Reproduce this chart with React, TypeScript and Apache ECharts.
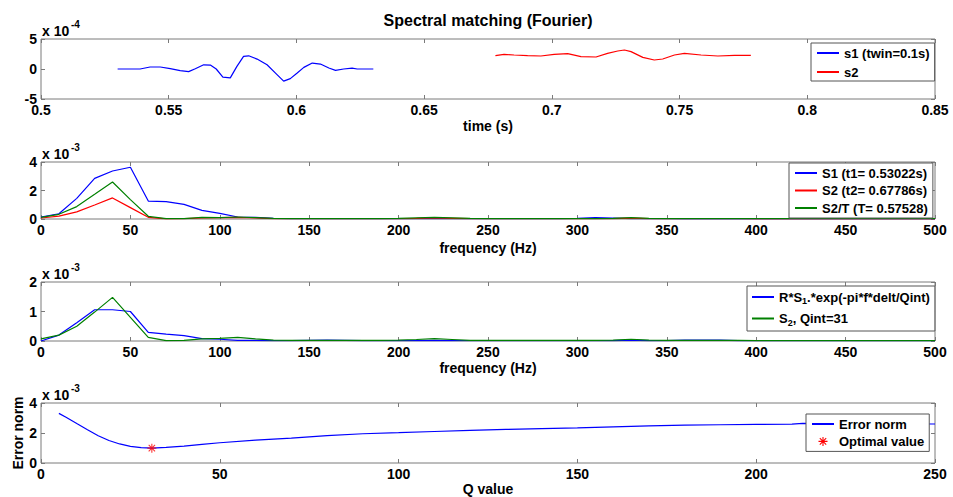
import React, { useEffect, useRef } from "react";
import * as echarts from "echarts";

// ---- data (y values in units of the axis multipliers) ----
const s1Time = [0.530, 0.5388, 0.5427, 0.5467, 0.5506, 0.5545, 0.5578, 0.5604, 0.5637, 0.5663, 0.5686, 0.5712, 0.5741, 0.5767, 0.5793, 0.5813, 0.5846, 0.5885, 0.5924, 0.5950, 0.5976, 0.6003, 0.6029, 0.6062, 0.6094, 0.6127, 0.6153, 0.6185, 0.6218, 0.6238, 0.6301];
const s1Val = [0, 0, 0.33, 0.33, 0.05, -0.27, -0.44, 0.05, 0.7, 0.66, 0, -1.37, -1.48, 0.44, 2.1, 2.2, 1.65, 0.7, -0.93, -2.03, -1.6, -0.66, 0.27, 0.99, 0.82, 0.16, -0.22, 0, 0.16, 0, 0]; // x 1e-4
const s2Time = [0.6779, 0.6813, 0.6852, 0.6905, 0.6957, 0.7009, 0.7062, 0.7114, 0.7173, 0.7218, 0.7258, 0.7284, 0.7310, 0.7356, 0.7401, 0.7434, 0.7480, 0.7519, 0.7584, 0.7650, 0.7715, 0.7779];
const s2Val = [2.22, 2.44, 2.33, 2.22, 2.17, 2.44, 2.55, 2.06, 2.0, 2.61, 3.0, 3.17, 2.89, 1.94, 1.5, 1.67, 2.33, 2.61, 2.33, 2.17, 2.28, 2.28]; // x 1e-4

const freq = [0, 10, 20, 30, 40, 50, 60, 70, 80, 90, 100, 110, 120, 130, 140, 150, 160, 170, 180, 190, 200, 210, 220, 230, 240, 250, 260, 270, 280, 290, 300, 310, 320, 330, 340, 350, 360, 370, 380, 390, 400, 410, 420, 430, 440, 450, 460, 470, 480, 490, 500];
const specS1 = [0.14, 0.37, 1.45, 2.85, 3.37, 3.63, 1.26, 1.22, 1.03, 0.61, 0.40, 0.14, 0.12, 0.05, 0.03, 0.02, 0.03, 0.02, 0.02, 0.03, 0.02, 0.03, 0.04, 0.02, 0.02, 0.02, 0.02, 0.02, 0.02, 0.03, 0.05, 0.1, 0.07, 0.02, 0.02, 0.02, 0.01, 0.01, 0.02, 0.01, 0.01, 0.01, 0.01, 0.01, 0.01, 0.01, 0.01, 0.01, 0.01, 0.01, 0.01]; // x 1e-3
const specS2 = [0.07, 0.2, 0.5, 0.98, 1.48, 0.8, 0.12, 0.01, 0.02, 0.07, 0.09, 0.12, 0.07, 0.03, 0.02, 0.02, 0.02, 0.02, 0.02, 0.02, 0.03, 0.05, 0.08, 0.05, 0.02, 0.02, 0.02, 0.02, 0.02, 0.02, 0.02, 0.02, 0.03, 0.06, 0.03, 0.02, 0.02, 0.02, 0.02, 0.02, 0.01, 0.01, 0.01, 0.01, 0.01, 0.01, 0.01, 0.01, 0.01, 0.01, 0.01]; // x 1e-3
const specS2T = [0.12, 0.33, 0.87, 1.73, 2.6, 1.36, 0.19, 0.02, 0.02, 0.12, 0.1, 0.14, 0.1, 0.05, 0.03, 0.03, 0.03, 0.03, 0.03, 0.03, 0.04, 0.08, 0.12, 0.08, 0.04, 0.03, 0.03, 0.03, 0.03, 0.03, 0.03, 0.03, 0.05, 0.1, 0.05, 0.03, 0.03, 0.03, 0.03, 0.03, 0.02, 0.02, 0.02, 0.02, 0.02, 0.02, 0.02, 0.02, 0.02, 0.02, 0.02]; // x 1e-3
const specRS1 = [0, 0.2, 0.62, 1.06, 1.06, 1.0, 0.29, 0.23, 0.18, 0.08, 0.06, 0.02, 0.02, 0.01, 0.01, 0.02, 0.03, 0.02, 0.01, 0.01, 0.01, 0.01, 0.02, 0.01, 0.01, 0.01, 0.01, 0.01, 0.01, 0.01, 0.01, 0.01, 0.01, 0.03, 0.01, 0.01, 0.03, 0.03, 0.03, 0.01, 0.01, 0.01, 0.01, 0.01, 0.01, 0.01, 0.01, 0.01, 0.01, 0.01, 0.01]; // x 1e-3

const qValues = [5, 7, 10, 13, 16, 19, 22, 25, 28, 31, 35, 40, 45, 50, 60, 70, 80, 90, 100, 110, 120, 130, 140, 150, 160, 170, 180, 190, 200, 210, 213, 220, 230, 240, 250];
const errNorm = [3.31, 3.05, 2.63, 2.22, 1.82, 1.5, 1.27, 1.11, 1.02, 0.99, 1.04, 1.13, 1.24, 1.35, 1.52, 1.66, 1.82, 1.95, 2.02, 2.1, 2.18, 2.24, 2.29, 2.34, 2.41, 2.48, 2.52, 2.55, 2.57, 2.59, 2.64, 2.63, 2.62, 2.61, 2.6]; // x 1e-3
const optimalQ = [31];
const optimalErr = [0.99];

const FONT = "'Liberation Sans', Arial, sans-serif";
const FRAME = "#7a7a7a";
const BLUE = "#0000ff";
const RED = "#ff0000";
const GREEN = "#008000";

const zip = (xs: number[], ys: number[]) => xs.map((x, i) => [x, ys[i]]);

const ASTERISK =
  "path://M-0.6,-5L0.6,-5L0.6,5L-0.6,5Z M-5,-0.6L5,-0.6L5,0.6L-5,0.6Z M3.111,-3.960L3.960,-3.111L-3.111,3.960L-3.960,3.111Z M-3.960,-3.111L-3.111,-3.960L3.960,3.111L3.111,3.960Z";

const grids = [
  { left: 41, top: 39, width: 894, height: 60 },
  { left: 41, top: 162, width: 894, height: 57 },
  { left: 41, top: 282, width: 894, height: 59 },
  { left: 41, top: 403, width: 894, height: 60 },
];

const tickStyle = { inside: true, length: 4, lineStyle: { color: FRAME, width: 1 } };
const labelStyle = { color: "#000", fontWeight: "bold" as const, fontSize: 14, fontFamily: FONT };
const hiddenLine = { show: false, onZero: false };

function xAxes(g: number, min: number, max: number, interval: number, name: string, gap: number, fmt?: (v: number) => string) {
  return [
    {
      gridIndex: g, type: "value", position: "bottom", min, max, interval,
      axisLine: hiddenLine, axisTick: tickStyle, splitLine: { show: false },
      axisLabel: { ...labelStyle, margin: 4, formatter: fmt },
      name, nameLocation: "middle", nameGap: gap, nameMoveOverlap: false,
      nameTextStyle: { ...labelStyle },
    },
    {
      gridIndex: g, type: "value", position: "top", min, max, interval,
      axisLine: hiddenLine, axisTick: tickStyle, splitLine: { show: false },
      axisLabel: { show: false },
    },
  ];
}

function yAxes(g: number, min: number, max: number, interval: number, name?: string) {
  return [
    {
      gridIndex: g, type: "value", position: "left", min, max, interval,
      axisLine: hiddenLine, axisTick: tickStyle, splitLine: { show: false },
      axisLabel: { ...labelStyle, margin: 4 },
      name: name || "", nameLocation: "middle", nameGap: 16, nameMoveOverlap: false,
      nameTextStyle: { ...labelStyle },
    },
    {
      gridIndex: g, type: "value", position: "right", min, max, interval,
      axisLine: hiddenLine, axisTick: tickStyle, splitLine: { show: false },
      axisLabel: { show: false },
    },
  ];
}

const line = (name: string, xi: number, yi: number, data: number[][], color: string) => ({
  name, type: "line", xAxisIndex: xi, yAxisIndex: yi, data, symbol: "none",
  lineStyle: { color, width: 1.2 }, itemStyle: { color }, z: 3,
});

const legendBase = {
  orient: "vertical", align: "left", backgroundColor: "#fff", borderColor: "#555", borderWidth: 1,
  itemWidth: 22, itemHeight: 14,
  itemStyle: { opacity: 0 },
  textStyle: { color: "#000", fontWeight: "bold", fontSize: 13, fontFamily: FONT, lineHeight: 14 },
  selectedMode: false, z: 10,
};

function expLabel(top: number, exp: string) {
  return [
    { type: "text", x: 42, y: top - 8, style: { text: "x 10", font: `bold 14px ${FONT}`, fill: "#000", align: "left", verticalAlign: "middle" } },
    { type: "text", x: 71, y: top - 15, style: { text: exp, font: `bold 10px ${FONT}`, fill: "#000", align: "left", verticalAlign: "middle" } },
  ];
}

export default function App() {
  const ref = useRef<HTMLDivElement>(null);
  useEffect(() => {
    if (!ref.current) return;
    const chart = echarts.init(ref.current, undefined, { renderer: "svg" });
    const fmtT = (v: number) => String(Math.round(v * 100) / 100);
    const option: any = {
      animation: false,
      backgroundColor: "#fff",
      title: {
        text: "Spectral matching (Fourier)", left: 488, top: 12, padding: 0, textAlign: "center",
        textStyle: { fontWeight: "bold", fontSize: 16, fontFamily: FONT, color: "#000" },
      },
      grid: grids.map((g) => ({ ...g, show: true, borderColor: FRAME, borderWidth: 1, backgroundColor: "transparent", containLabel: false })),
      xAxis: [
        ...xAxes(0, 0.5, 0.85, 0.05, "time (s)", 20, fmtT),
        ...xAxes(1, 0, 500, 50, "frequency (Hz)", 22),
        ...xAxes(2, 0, 500, 50, "frequency (Hz)", 20),
        ...xAxes(3, 0, 250, 50, "Q value", 19),
      ],
      yAxis: [
        ...yAxes(0, -5, 5, 5),
        ...yAxes(1, 0, 4, 2),
        ...yAxes(2, 0, 2, 1),
        ...yAxes(3, 0, 4, 2, "Error norm"),
      ],
      legend: [
        { ...legendBase, data: ["s1 (twin=0.1s)", "s2"], left: 811, top: 43, itemGap: 5, padding: [3, 5, 2, 5] },
        { ...legendBase, data: ["S1 (t1= 0.53022s)", "S2 (t2= 0.67786s)", "S2/T (T= 0.57528)"], left: 789, top: 163, itemGap: 3.5, padding: [3, 5, 3, 5] },
        {
          ...legendBase, data: ["R*S1.*exp(-pi*f*delt/Qint)", "S2, Qint=31"], left: 747, top: 286, itemGap: 6, padding: [4, 5, 4, 4],
          formatter: (n: string) =>
            n.startsWith("R*S1") ? "{n|R*S}{s|1}{n|.*exp(-pi*f*delt/Qint)}" : "{n|S}{s|2}{n|, Qint=31}",
          textStyle: {
            ...legendBase.textStyle,
            rich: {
              n: { fontWeight: "bold", fontSize: 13, fontFamily: FONT, color: "#000" },
              s: { fontWeight: "bold", fontSize: 9, fontFamily: FONT, color: "#000", padding: [8, 0, 0, 0] },
            },
          },
        },
        {
          ...legendBase,
          data: [
            { name: "Error norm", itemStyle: { opacity: 0 } },
            { name: "Optimal value", itemStyle: { color: RED, opacity: 1 } },
          ],
          itemStyle: undefined,
          left: 806, top: 414, itemGap: 3.4, itemHeight: 9, padding: [3, 5, 3, 5],
        },
      ],
      graphic: [
        ...expLabel(39, "-4"),
        ...expLabel(162, "-3"),
        ...expLabel(282, "-3"),
        ...expLabel(403, "-3"),
      ],
      series: [
        line("s1 (twin=0.1s)", 0, 0, zip(s1Time, s1Val), BLUE),
        line("s2", 0, 0, zip(s2Time, s2Val), RED),
        line("S1 (t1= 0.53022s)", 2, 2, zip(freq, specS1), BLUE),
        line("S2 (t2= 0.67786s)", 2, 2, zip(freq, specS2), RED),
        line("S2/T (T= 0.57528)", 2, 2, zip(freq, specS2T), GREEN),
        line("R*S1.*exp(-pi*f*delt/Qint)", 4, 4, zip(freq, specRS1), BLUE),
        line("S2, Qint=31", 4, 4, zip(freq, specS2), GREEN),
        line("Error norm", 6, 6, zip(qValues, errNorm), BLUE),
        {
          name: "Optimal value", type: "scatter", xAxisIndex: 6, yAxisIndex: 6,
          data: zip(optimalQ, optimalErr), symbol: ASTERISK, symbolSize: 9,
          itemStyle: { color: RED }, z: 4,
        },
      ],
    };
    chart.setOption(option);
    return () => chart.dispose();
  }, []);
  return <div ref={ref} style={{ position: "absolute", left: 0, top: 0, width: 953, height: 497 }} />;
}
